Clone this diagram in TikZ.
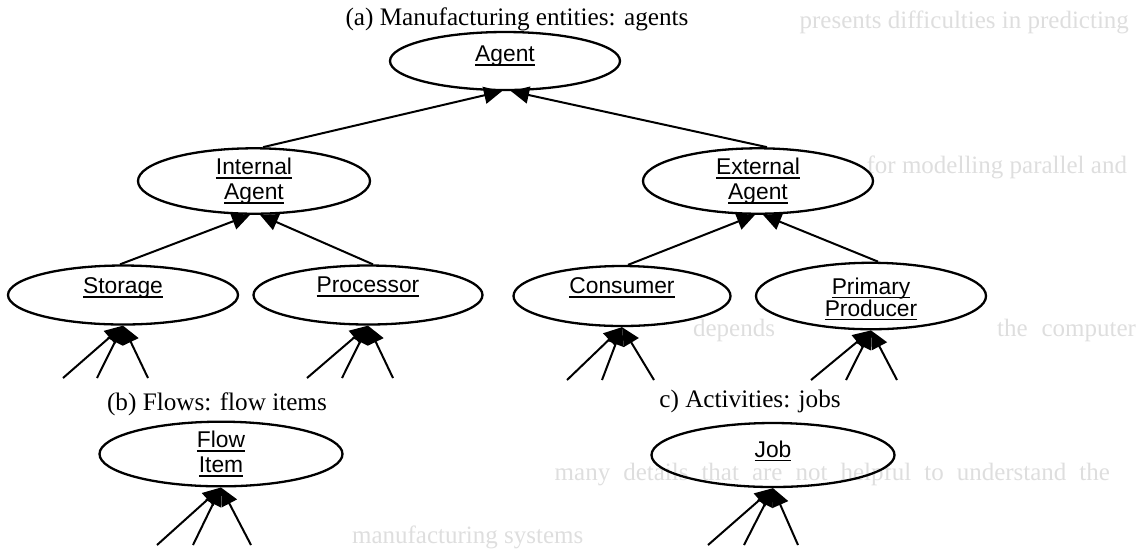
\documentclass[tikz,border=0pt]{standalone}
\usepackage{fontspec}
\setmainfont{Liberation Serif}
\newfontfamily\classfont{Liberation Sans}
\usetikzlibrary{arrows.meta,shapes.geometric,calc}
% underlined class name with a rule just below the baseline
\newcommand\undl[1]{\setbox0\hbox{#1}\rlap{\vrule width\wd0 height -1.3pt depth 2.1pt}\box0}
% move a label up or down inside its ellipse without changing the box
\newcommand\lift[2]{\raisebox{#1}[\height][\depth]{#2}}
\begin{document}
\begin{tikzpicture}[x=0.5pt,y=-0.5pt,
  cls/.style={ellipse, draw, line width=1.15pt, inner sep=0pt,
    font=\classfont\fontsize{11.4}{12.5}\selectfont, align=center},
  gen/.style={line width=1pt, draw=black, fill=black!80,
    -{Triangle[length=9pt,width=8.5pt]}},
  caption/.style={font=\fontsize{12.6}{14}\selectfont},
  ghost/.style={text=black!13, font=\fontsize{12.5}{15}\selectfont}]
\useasboundingbox (0,0) rectangle (1138,548);

% faint text showing through from the other side of the page
\node[ghost, anchor=east] (g1) at (1136,22) {presents difficulties in predicting};
\node[ghost, anchor=east] (g2) at (1134,167) {for modelling parallel and};
\node[ghost, anchor=west] (g3a) at (686,330) {depends};
\node[ghost, anchor=west] (g3b) at (990,330) {\spaceskip=7pt the computer};
\node[ghost, anchor=east] (g4) at (1117,474) {\spaceskip=6.5pt many details that are not helpful to understand the};
\node[ghost, anchor=west] (g5) at (345,537) {manufacturing systems};

% captions
\node[caption] (capa) at (517,19) {(a) Manufacturing entities: agents};
\node[caption] (capb) at (217,404) {(b) Flows: flow items};
\node[caption] (capc) at (750,401) {c) Activities: jobs};

% classes
\node[cls, minimum width=115pt, minimum height=29pt] (agent) at (505,61) {\lift{2.5pt}{\undl{Agent}}};
\node[cls, minimum width=116pt, minimum height=28.5pt] (int) at (254,181) {\undl{Internal}\\\undl{Agent}};
\node[cls, minimum width=115pt, minimum height=28.5pt] (ext) at (758,181) {\undl{External}\\\undl{Agent}};
\node[cls, minimum width=115pt, minimum height=29.5pt] (sto) at (123,295) {\lift{3.5pt}{\undl{Storage}}};
\node[cls, minimum width=114.5pt, minimum height=29.5pt] (pro) at (368,295) {\lift{4pt}{\undl{Processor}}};
\node[cls, minimum width=108.5pt, minimum height=30pt] (con) at (622,296) {\lift{4pt}{\undl{Consumer}}};
\node[cls, minimum width=115pt, minimum height=32pt] (pri) at (871,296) {\lift{-2pt}{\begin{tabular}{@{}c@{}}\undl{Primary}\\[-1.5pt]\undl{Producer}\end{tabular}}};
\node[cls, minimum width=121.5pt, minimum height=31pt] (flow) at (221,454) {\undl{Flow}\\\undl{Item}};
\node[cls, minimum width=121.5pt, minimum height=32pt] (job) at (773,455) {\lift{2pt}{\undl{Job}}};

% generalisations between the classes
\draw[gen] ($(int.north)+(9,0)$) -- ($(agent.south)+(-3,0)$);
\draw[gen] ($(ext.north)+(9,0)$) -- ($(agent.south)+(6,0)$);
\draw[gen] ($(sto.north)+(-3,0)$) -- ($(int.south)+(-4,0)$);
\draw[gen] ($(pro.north)+(5,0)$) -- ($(int.south)+(6,0)$);
\draw[gen] ($(con.north)+(6,0)$) -- ($(ext.south)+(-3,0)$);
\draw[gen] ($(pri.north)+(7,0)$) -- ($(ext.south)+(5,0)$);

% open-ended subclasses below the leaves
\foreach \n/\a/\b/\c/\y in {sto/63/97/148/378, pro/307/342/393/378,
    con/567/602/654/380, pri/811/846/897/380,
    flow/157/193/251/545, job/708/744/798/545}{
  \coordinate (\n-s1) at (\a,\y);
  \coordinate (\n-s2) at (\b,\y);
  \coordinate (\n-s3) at (\c,\y);
  \draw[gen] (\n-s1) -- (\n.south);
  \draw[gen] (\n-s2) -- (\n.south);
  \draw[gen] (\n-s3) -- (\n.south);
}
\end{tikzpicture}
\end{document}
